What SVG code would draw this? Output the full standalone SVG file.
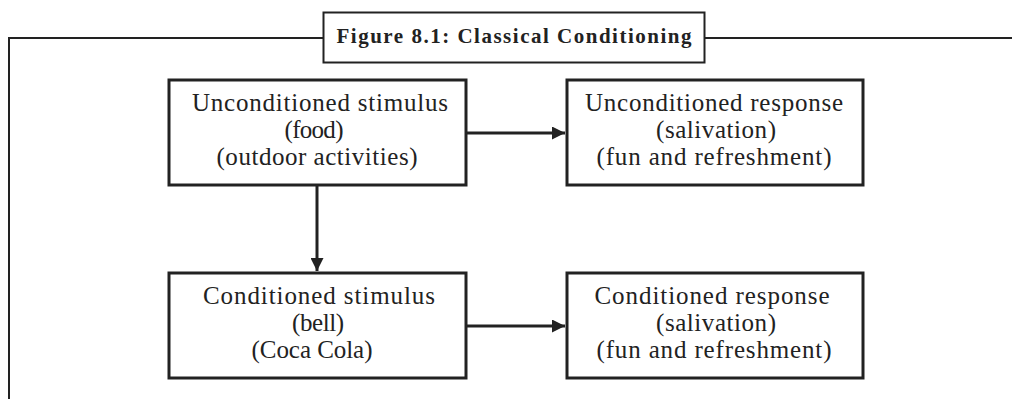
<svg xmlns="http://www.w3.org/2000/svg" width="1012" height="399" viewBox="0 0 1012 399">
<style>
.box{fill:#fff;stroke:#222;stroke-width:3}
.frame{fill:none;stroke:#222;stroke-width:2}
.conn{fill:none;stroke:#222;stroke-width:3}
text{font-family:"Liberation Serif","Times New Roman",serif;font-size:25px;fill:#222;text-anchor:middle}
.title{font-weight:bold;font-size:21px}
</style>
<defs>
<marker id="ah" viewBox="0 0 10 10" refX="10" refY="5" markerWidth="14" markerHeight="13" markerUnits="userSpaceOnUse" orient="auto">
<path d="M0,0 L10,5 L0,10 Z" fill="#222"/>
</marker>
</defs>
<rect width="1012" height="399" fill="#fff"/>
<g id="frame">
<path class="frame" d="M9,399 V38 H323 M705,38 H1012"/>
</g>
<g id="title">
<rect class="frame" x="323.5" y="12.5" width="381" height="50"/>
<text class="title" x="514" y="43" textLength="355">Figure 8.1: Classical Conditioning</text>
</g>
<g id="connectors">
<line class="conn" x1="467" y1="133" x2="565" y2="133" marker-end="url(#ah)"/>
<line class="conn" x1="317" y1="186" x2="317" y2="271" marker-end="url(#ah)"/>
<line class="conn" x1="467" y1="326" x2="565" y2="326" marker-end="url(#ah)"/>
</g>
<g id="us">
<rect class="box" x="169" y="80" width="297" height="105"/>
<text x="320" y="111" textLength="256">Unconditioned stimulus</text>
<text x="314" y="138" textLength="59">(food)</text>
<text x="317" y="165" textLength="201">(outdoor activities)</text>
</g>
<g id="ur">
<rect class="box" x="567" y="80" width="296" height="105"/>
<text x="714" y="111" textLength="258">Unconditioned response</text>
<text x="716" y="138" textLength="120">(salivation)</text>
<text x="714" y="165" textLength="235">(fun and refreshment)</text>
</g>
<g id="cs">
<rect class="box" x="169" y="273" width="297" height="105"/>
<text x="319" y="304" textLength="232">Conditioned stimulus</text>
<text x="318" y="331" textLength="52">(bell)</text>
<text x="312" y="358" textLength="121">(Coca Cola)</text>
</g>
<g id="cr">
<rect class="box" x="567" y="273" width="296" height="105"/>
<text x="712" y="304" textLength="235">Conditioned response</text>
<text x="716" y="331" textLength="120">(salivation)</text>
<text x="714" y="358" textLength="235">(fun and refreshment)</text>
</g>
</svg>
